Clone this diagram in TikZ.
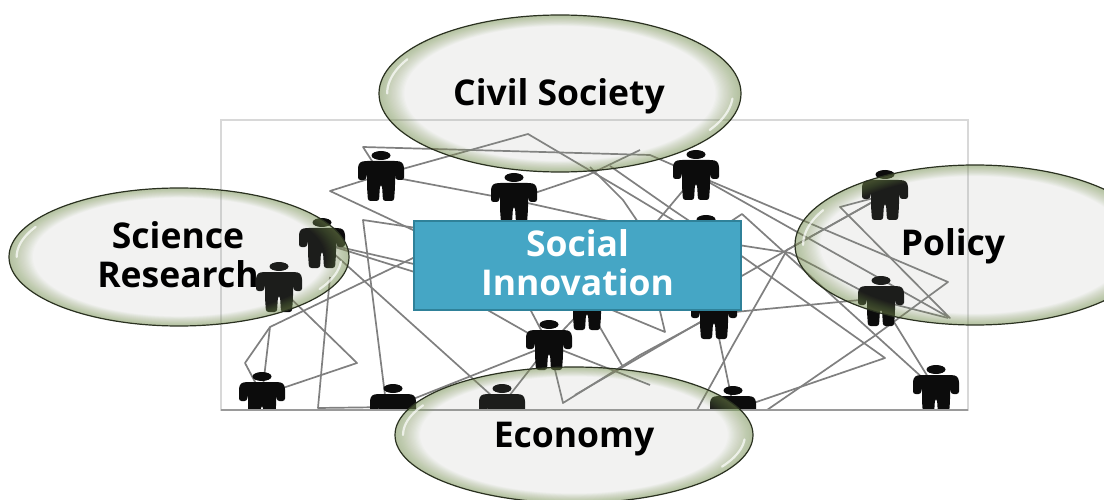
\documentclass[tikz,border=0pt]{standalone}
\usepackage{fontspec}
\setmainfont{Open Sans}
\usetikzlibrary{shapes.geometric}
\definecolor{rimgreen}{HTML}{7F9A55}
\definecolor{bubblebase}{HTML}{959B8E}
\definecolor{rimdark}{HTML}{2A3120}
\definecolor{boxblue}{HTML}{45A6C5}
\definecolor{boxedge}{HTML}{2F8199}
\definecolor{netgray}{HTML}{808080}
\definecolor{frameedge}{HTML}{D8D8D8}
\definecolor{framebottom}{HTML}{9A9A9A}
\definecolor{personblack}{HTML}{0C0C0C}
\tikzset{
  x=1pt,y=-1pt,
  bigtext/.style={font=\fontsize{35.5}{39}\selectfont\bfseries,align=center},
  netline/.style={draw=netgray,line width=1.7pt,line join=round},
  bubbleoutline/.style={ellipse,draw=rimdark,line width=1.2pt,inner sep=0pt},
  boxlabel/.style={rectangle,fill=boxblue,draw=boxedge,line width=2pt,inner sep=0pt},
  personpic/.pic={
    \fill[personblack] (0,4.5) ellipse [x radius=9.5,y radius=4.5];
    \fill[personblack,rounded corners=2.5pt]
      (-16,10) -- (16,10) -- (21,11) -- (23,15) -- (23,29) -- (15,29) -- (14,22) -- (14,36)
      -- (13,50) -- (2,50) -- (1,34) -- (-1,34) -- (-2,50) -- (-13,50) -- (-14,36)
      -- (-14,22) -- (-15,29) -- (-23,29) -- (-23,15) -- (-21,11) -- cycle;
  }
}
\newcommand{\bubblefill}[4]{%
  \fill[bubblebase,opacity=.12] (#1,#2) ellipse [x radius=#3,y radius=#4];
  \foreach \k in {.993,.986,.979,.972,.965,.958,.951,.944,.937,.93,.923,.916,.909,.902,.895,.888,.881,.874,.867,.86}{
    \fill[rimgreen,opacity=.03,even odd rule]
      (#1,#2) ellipse [x radius=#3,y radius=#4]
      (#1,#2) ellipse [x radius=\k*#3,y radius=\k*#4];
  }
  \draw[white,opacity=.7,line width=2.2pt,line cap=round] plot[domain=180:208,samples=12] ({#1+.955*#3*cos(\x)},{#2+.93*#4*sin(\x)});
  \draw[white,opacity=.7,line width=2.2pt,line cap=round] plot[domain=4:30,samples=12] ({#1+.955*#3*cos(\x)},{#2+.93*#4*sin(\x)});
}
\begin{document}
\begin{tikzpicture}
\useasboundingbox (0,0) rectangle (1104,500);
\clip (0,0) rectangle (1104,500);
\fill[white] (0,0) rectangle (1104,500);
\draw[frameedge,line width=1.5pt,fill=white] (221,120) rectangle (968,410);
\begin{scope}
\clip (221,120) rectangle (968,410);
% network, left part
\draw[netline] (381,175) -- (363,147) -- (650,155) -- (696,175);
\draw[netline] (381,175) -- (528,134) -- (623,190) -- (706,240);
\draw[netline] (381,175) -- (330,191) -- (430,238);
\draw[netline] (381,175) -- (514,200) -- (588,175) -- (640,150);
\draw[netline] (514,200) -- (640,228) -- (706,240);
\draw[netline] (430,230) -- (363,220) -- (385,395);
\draw[netline] (322,243) -- (440,280);
\draw[netline] (322,243) -- (440,270);
\draw[netline] (440,245) -- (270,327) -- (245,363) -- (262,395);
\draw[netline] (270,327) -- (262,395);
\draw[netline] (330,277) -- (318,408) -- (393,407);
\draw[netline] (279,287) -- (357,363) -- (262,395);
\draw[netline] (322,243) -- (502,405);
\draw[netline] (470,300) -- (549,345) -- (563,403) -- (640,355) -- (714,315);
\draw[netline] (549,345) -- (650,385);
\draw[netline] (393,407) -- (549,345) -- (587,305);
\draw[netline] (520,290) -- (549,345);
\draw[netline] (502,405) -- (549,345);
% network, right part
\draw[netline] (610,166) -- (673,210) -- (743,257) -- (885,358) -- (733,410);
\draw[netline] (590,167) -- (623,200) -- (640,225);
\draw[netline] (696,175) -- (650,230);
\draw[netline] (696,175) -- (948,282) -- (873,337) -- (767,410);
\draw[netline] (696,175) -- (950,318) -- (840,207) -- (885,195);
\draw[netline] (885,195) -- (787,250) -- (700,300);
\draw[netline] (885,195) -- (787,250) -- (733,345) -- (697,410);
\draw[netline] (730,222) -- (742,214) -- (936,390);
\draw[netline] (706,240) -- (790,253) -- (881,301);
\draw[netline] (714,314) -- (881,298);
\draw[netline] (600,305) -- (665,332) -- (655,290);
\draw[netline] (714,314) -- (623,367) -- (587,305);
\draw[netline] (623,367) -- (575,395);
\draw[netline] (714,314) -- (733,405);
\draw[netline] (881,301) -- (936,390);
\draw[netline] (881,301) -- (948,318);
% people
\foreach \px/\py in {381/151,514/173,696/150,706/215,322/218,279/262,885/170,881/276,
  549/320,587/280,714/289,262/372,393/384,502/384,733/386,936/365}
  \pic at (\px,\py) {personpic};
\end{scope}
\draw[framebottom,line width=1.6pt] (221,410) -- (968,410);
\node[boxlabel,minimum width=327pt,minimum height=89pt] (innovation) at (577.5,265.5) {};
\node[bigtext,text=white] (innovationtext) at (577.5,262.5) {Social\\Innovation};
\bubblefill{560}{93.5}{181}{78.5}
\bubblefill{179}{257}{170}{69}
\bubblefill{975}{245}{180}{80}
\bubblefill{574}{435}{179}{68}
\node[bubbleoutline,minimum width=362pt,minimum height=157pt] (civil) at (560,93.5) {};
\node[bubbleoutline,minimum width=340pt,minimum height=138pt] (science) at (179,257) {};
\node[bubbleoutline,minimum width=360pt,minimum height=160pt] (policy) at (975,245) {};
\node[bubbleoutline,minimum width=358pt,minimum height=136pt] (economy) at (574,435) {};
\node[bigtext,text=black] (civiltext) at (559,96) {Civil Society};
\node[bigtext,text=black] (sciencetext) at (178,255) {Science\\Research};
\node[bigtext,text=black] (policytext) at (953,246) {Policy};
\node[bigtext,text=black] (economytext) at (574,439) {Economy};
\end{tikzpicture}
\end{document}
